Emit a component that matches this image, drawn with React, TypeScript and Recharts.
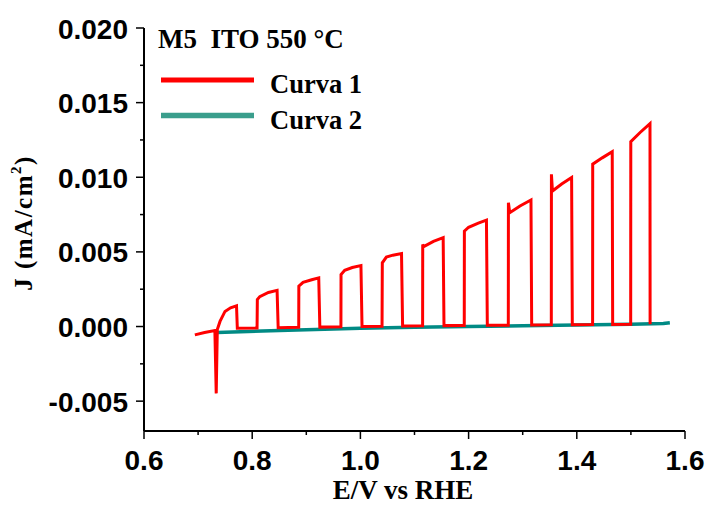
import React from "react";
import { LineChart, Line, XAxis, YAxis } from "recharts";

// Curva 1 (chopped light), E in V vs RHE, J in mA/cm2
const curve1E = [
  0.694, 0.712, 0.731, 0.7335, 0.7355, 0.7405, 0.7497, 0.76, 0.771, 0.7725,
  0.809, 0.8095, 0.814, 0.83, 0.846, 0.848,
  0.886, 0.8862, 0.894, 0.91, 0.923, 0.925,
  0.964, 0.9642, 0.971, 0.985, 1.001, 1.003,
  1.04, 1.0405, 1.048, 1.06, 1.076, 1.078,
  1.115, 1.1152, 1.117, 1.135, 1.153, 1.1545,
  1.192, 1.1922, 1.2, 1.218, 1.233, 1.2346,
  1.2734, 1.2736, 1.276, 1.295, 1.3153, 1.3166,
  1.3529, 1.3531, 1.355, 1.372, 1.3904, 1.3917,
  1.4292, 1.4294, 1.447, 1.4655, 1.4663,
  1.4996, 1.4998, 1.517, 1.5353, 1.5355,
];
const curve1J = [
  -0.00056, -0.0004, -0.00027, -0.00448, -0.0002, 0.00034, 0.00101, 0.00125, 0.00139, -0.00012,
  -0.0001, 0.0018, 0.002, 0.00228, 0.00242, -0.00008,
  -0.00005, 0.0027, 0.00296, 0.00313, 0.00326, -0.00004,
  -0.00002, 0.00348, 0.00377, 0.00395, 0.00408, 0.0,
  0.00002, 0.00427, 0.00465, 0.00478, 0.00489, 0.00004,
  0.00005, 0.0055, 0.00535, 0.0057, 0.00595, 0.00006,
  0.00007, 0.00639, 0.00665, 0.00693, 0.00713, 0.00008,
  0.00009, 0.0083, 0.00763, 0.00808, 0.00848, 0.0001,
  0.00011, 0.0102, 0.00908, 0.00955, 0.00998, 0.00012,
  0.00013, 0.01088, 0.0113, 0.01171, 0.00014,
  0.00015, 0.01238, 0.013, 0.01359, 0.00016,
];

// Curva 2 (dark)
const curve2E = [0.7355, 0.85, 1.0, 1.1, 1.2, 1.3, 1.4, 1.5, 1.56, 1.572];
const curve2J = [-0.0004, -0.00027, -0.00012, -0.00005, 0.0, 0.00005, 0.0001, 0.00015, 0.0002, 0.00025];

const xTicks = [0.6, 0.7, 0.8, 0.9, 1.0, 1.1, 1.2, 1.3, 1.4, 1.5, 1.6];
const yTicks = [-0.005, -0.0025, 0, 0.0025, 0.005, 0.0075, 0.01, 0.0125, 0.015, 0.0175, 0.02];

const curve1 = curve1E.map((e, i) => ({ e, j: curve1J[i] }));
const curve2 = curve2E.map((e, i) => ({ e, j: curve2J[i] }));

const sans = "'Liberation Sans', Arial, sans-serif";
const serif = "'Liberation Serif', 'Times New Roman', serif";

function XTick(props: any) {
  const { x, y, payload } = props;
  const v = payload.value as number;
  const major = Math.round(v * 10) % 2 === 0;
  return (
    <g>
      <line x1={x} y1={y} x2={x} y2={y + (major ? 8 : 4)} stroke="#000" strokeWidth={1.5} />
      {major && (
        <text x={x} y={y + 39} textAnchor="middle" fontFamily={sans} fontWeight="bold" fontSize={28} fill="#000">
          {v.toFixed(1)}
        </text>
      )}
    </g>
  );
}

function YTick(props: any) {
  const { x, y, payload } = props;
  const v = payload.value as number;
  const major = Math.round(v * 400) % 2 === 0;
  return (
    <g>
      <line x1={x} y1={y} x2={x - (major ? 8 : 4)} y2={y} stroke="#000" strokeWidth={1.5} />
      {major && (
        <text x={x - 16} y={y + 10.5} textAnchor="end" fontFamily={sans} fontWeight="bold" fontSize={28} fill="#000">
          {v.toFixed(3)}
        </text>
      )}
    </g>
  );
}

export default function App() {
  return (
    <div style={{ position: "absolute", left: 0, top: 0, width: 707, height: 505, background: "#fff" }}>
      <LineChart width={707} height={505} margin={{ top: 28, right: 22, bottom: 0, left: 0 }}>
        <XAxis
          type="number"
          dataKey="e"
          domain={[0.6, 1.6]}
          ticks={xTicks}
          interval={0}
          height={74}
          tickSize={0}
          tickMargin={0}
          tickLine={false}
          tick={<XTick />}
          axisLine={{ stroke: "#000", strokeWidth: 2 }}
          allowDataOverflow
        />
        <YAxis
          type="number"
          domain={[-0.007, 0.02]}
          ticks={yTicks}
          interval={0}
          width={144}
          tickSize={0}
          tickMargin={0}
          tickLine={false}
          tick={<YTick />}
          axisLine={{ stroke: "#000", strokeWidth: 2 }}
          allowDataOverflow
        />
        <Line
          data={curve2}
          dataKey="j"
          type="linear"
          stroke="#008a84"
          strokeWidth={3.5}
          dot={false}
          isAnimationActive={false}
        />
        <Line
          data={curve1}
          dataKey="j"
          type="linear"
          stroke="#ff0000"
          strokeWidth={3}
          dot={false}
          isAnimationActive={false}
        />
      </LineChart>
      <svg width={707} height={505} style={{ position: "absolute", left: 0, top: 0, pointerEvents: "none" }}>
        <text x={158} y={47.7} fontFamily={serif} fontWeight="bold" fontSize={27} fill="#000" style={{ whiteSpace: "pre" }}>
          {"M5  ITO 550 °C"}
        </text>
        <line x1={161} y1={80} x2={254} y2={80} stroke="#ff0000" strokeWidth={5} />
        <text x={270} y={92.7} fontFamily={serif} fontWeight="bold" fontSize={26.5} fill="#000">
          Curva 1
        </text>
        <line x1={161} y1={115.5} x2={254} y2={115.5} stroke="#3a9e8c" strokeWidth={5.5} />
        <text x={270} y={129} fontFamily={serif} fontWeight="bold" fontSize={26.5} fill="#000">
          Curva 2
        </text>
        <text x={403} y={499} textAnchor="middle" fontFamily={serif} fontWeight="bold" fontSize={27} fill="#000">
          E/V vs RHE
        </text>
        <text
          transform="translate(32,223) rotate(-90)"
          textAnchor="middle"
          fontFamily={serif}
          fontWeight="bold"
          fontSize={25}
          letterSpacing={1.5}
          fill="#000"
        >
          J (mA/cm<tspan fontSize={15} dy={-11}>2</tspan>
          <tspan dy={11}>)</tspan>
        </text>
      </svg>
    </div>
  );
}
